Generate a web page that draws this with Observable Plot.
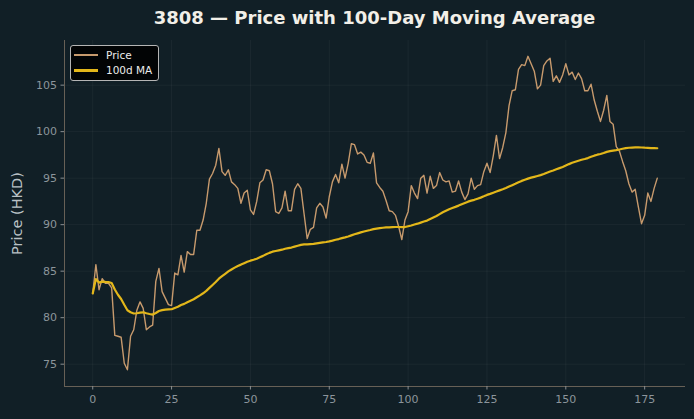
<!DOCTYPE html>
<html>
<head>
<meta charset="utf-8">
<script src="https://cdn.jsdelivr.net/npm/d3@7"></script>
<script src="https://cdn.jsdelivr.net/npm/@observablehq/plot@0.6"></script>
<style>
  html, body { margin: 0; padding: 0; background: #111f26; }
  #wrap { position: relative; width: 694px; height: 419px; background: #111f26; font-family: "DejaVu Sans", sans-serif; }
  #title { position: absolute; left: 64px; width: 621px; top: 7px; text-align: center; font-weight: bold; font-size: 18px; color: #f2efe8; line-height: 22px; }
  #legend { position: absolute; left: 70px; top: 45px; width: 87px; height: 34px; background: #020405; border: 1px solid #b5b5b5; border-radius: 3px; font-size: 10.5px; color: #ececec; }
  .row { position: absolute; left: 0; height: 14px; line-height: 14px; }
  .sw { position: absolute; left: 3px; width: 24px; }
  .lab { position: absolute; left: 35px; white-space: nowrap; }
</style>
</head>
<body>
<div id="wrap">
  <div id="chart"></div>
  <div id="title"></div>
  <div id="legend"></div>
</div>
<script>
const titleText = "3808 — Price with 100-Day Moving Average";
const yLabel = "Price (HKD)";
const seriesNames = ["Price", "100d MA"];
const seriesColors = ["#c79a6d", "#e3b71a"];
const maWindow = 100;
const xTicks = [0, 25, 50, 75, 100, 125, 150, 175];
const yTicks = [75, 80, 85, 90, 95, 100, 105];

const price = [
  82.6, 85.7, 83.0, 84.2, 83.7, 83.7, 83.2, 78.1, 78.0, 77.9,
  75.1, 74.4, 78.0, 78.7, 80.8, 81.7, 81.0, 78.7, 79.0, 79.2,
  83.9, 85.3, 82.8, 82.1, 81.4, 81.3, 84.8, 84.6, 86.7, 84.9,
  87.1, 86.8, 86.8, 89.4, 89.4, 90.5, 92.3, 94.9, 95.5, 96.4,
  98.2, 95.7, 95.3, 95.9, 94.6, 94.3, 93.9, 92.3, 93.4, 93.7,
  91.6, 91.1, 92.5, 94.5, 94.8, 95.9, 95.8, 94.4, 91.4, 91.2,
  91.8, 93.6, 91.5, 91.5, 93.8, 94.4, 93.9, 91.2, 88.5, 89.5,
  89.7, 91.8, 92.3, 91.9, 90.7, 93.0, 94.6, 95.4, 94.5, 96.5,
  95.0, 96.6, 98.7, 98.6, 97.6, 97.8, 97.5, 96.7, 96.6, 97.7,
  94.5, 94.0, 93.6, 92.6, 91.5, 91.4, 91.0, 89.8, 88.4, 90.5,
  91.4, 94.2, 93.4, 92.8, 95.0, 95.3, 93.4, 95.2, 93.9, 94.2,
  95.6, 94.8, 94.6, 94.7, 93.5, 93.6, 94.7, 93.5, 92.7, 93.3,
  95.0, 93.8, 94.2, 94.3, 95.7, 96.6, 95.6, 97.4, 99.6, 97.1,
  98.3, 99.9, 102.8, 104.4, 104.5, 106.7, 107.2, 107.1, 108.1, 107.3,
  106.5, 104.6, 105.0, 107.1, 107.6, 107.9, 105.4, 106.0, 105.3, 106.1,
  107.3, 106.1, 106.4, 105.6, 106.3, 105.7, 104.4, 104.4, 105.1, 103.4,
  102.2, 101.1, 102.3, 103.9, 101.1, 100.8, 98.4, 97.9, 96.8, 95.8,
  94.4, 93.5, 93.8, 91.9, 90.1, 91.0, 93.4, 92.5, 93.9, 95.0
];

const data = price.map((p, i) => ({day: i, price: p}));

const xDomain = [-8.95, 187.95];
const yDomain = [72.6, 109.8];
const spine = "#676056";

const chart = Plot.plot({
  width: 694,
  height: 419,
  marginTop: 40,
  marginBottom: 33,
  marginLeft: 64,
  marginRight: 9,
  style: {background: "transparent", fontFamily: "DejaVu Sans, sans-serif", fontSize: "11px", color: "#8c959b"},
  x: {domain: xDomain},
  y: {domain: yDomain},
  marks: [
    Plot.gridX(xTicks, {stroke: "#ffffff", strokeOpacity: 0.045}),
    Plot.gridY(yTicks, {stroke: "#ffffff", strokeOpacity: 0.045}),
    Plot.ruleX([xDomain[0]], {stroke: spine, strokeWidth: 1}),
    Plot.ruleY([yDomain[0]], {stroke: spine, strokeWidth: 1}),
    Plot.axisX(xTicks, {tickSize: 3.5, tickPadding: 5, stroke: "#8a8f92", fill: "#8c959b", label: null, fontSize: 11}),
    Plot.axisY(yTicks, {tickSize: 3.5, tickPadding: 4, stroke: "#8a8f92", fill: "#8c959b", label: null, fontSize: 11}),
    Plot.text([yLabel], {frameAnchor: "left", textAnchor: "middle", rotate: -90, dx: -47, fill: "#b9c1c5", fontSize: 14.5}),
    Plot.lineY(data, {x: "day", y: "price", stroke: seriesColors[0], strokeWidth: 1.4}),
    Plot.lineY(data, Plot.windowY({k: maWindow, anchor: "end", reduce: "mean"}, {x: "day", y: "price", stroke: seriesColors[1], strokeWidth: 2.2}))
  ]
});
document.getElementById("chart").append(chart);
document.getElementById("title").textContent = titleText;

const legend = document.getElementById("legend");
seriesNames.forEach((name, i) => {
  const row = document.createElement("div");
  row.className = "row";
  row.style.top = (i === 0 ? 2 : 17) + "px";
  const sw = document.createElement("div");
  sw.className = "sw";
  sw.style.top = "6px";
  sw.style.borderTop = (i === 0 ? 2 : 3) + "px solid " + seriesColors[i];
  const lab = document.createElement("div");
  lab.className = "lab";
  lab.textContent = name;
  row.append(sw, lab);
  legend.append(row);
});
</script>
</body>
</html>
